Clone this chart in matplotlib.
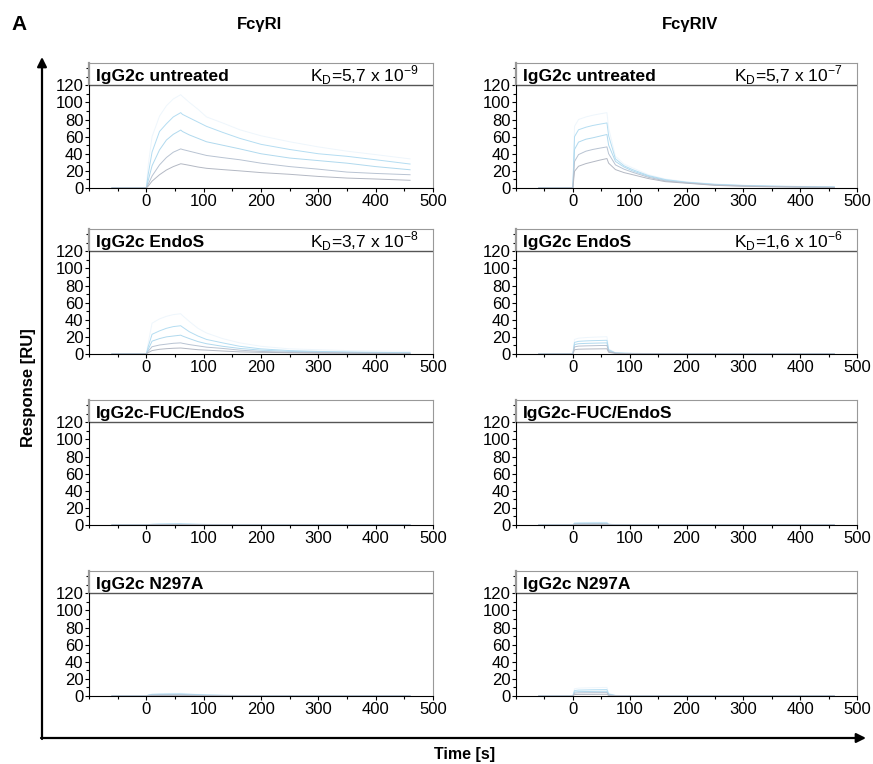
import matplotlib
matplotlib.use('Agg')
import matplotlib.pyplot as plt
from matplotlib.patches import FancyArrowPatch
from matplotlib.ticker import MultipleLocator

plt.rcParams['font.family'] = ['Liberation Sans', 'DejaVu Sans']

# time points of the sensorgrams (s)
times = [-60, 0, 3, 10, 23, 35, 47, 60, 63, 75, 90, 105, 133, 163, 200, 250, 300, 350, 400, 460]

# responses (RU), highest concentration first
fcg1_untreated = [
    [0, 0, 25, 60, 84, 96, 104, 109, 107, 100, 92, 83, 76, 68, 61, 54, 48, 43, 39, 34],
    [0, 0, 15, 42, 66, 75, 83, 88, 86, 82, 77, 72, 65, 58, 51, 45, 40, 37, 33, 28],
    [0, 0, 8, 26, 44.5, 56, 62.7, 67.7, 66, 62, 58, 54, 50, 45.7, 40, 35, 32, 29, 25, 21.3],
    [0, 0, 4, 14, 27, 35.6, 41.8, 45.7, 45, 43, 40.5, 38, 35.5, 33, 29, 25, 22, 18.6, 17, 15.5],
    [0, 0, 2, 8, 15.5, 21, 25, 28.3, 28, 26.5, 24.5, 23, 21.5, 20, 18, 16, 13.5, 11.6, 10.5, 9],
]
fcg1_endos = [
    [0, 0, 12, 36, 41, 44, 46, 47, 45, 38, 30, 24.5, 18, 13, 9, 6, 5, 4, 3.5, 3],
    [0, 0, 8, 23, 27, 30, 32, 33, 31.5, 26, 21, 17, 13, 9, 6, 4, 3, 2.4, 2, 1.5],
    [0, 0, 5, 15, 18, 20, 21, 22, 21, 18, 14.5, 12, 9, 6.5, 4.5, 3, 2.5, 2, 1.5, 1],
    [0, 0, 3, 8.5, 10.5, 11.5, 12.5, 13, 12.5, 11, 9.5, 8, 6.5, 4.5, 3, 2, 1.8, 1.4, 1, 0.8],
    [0, 0, 1.5, 4, 5.5, 6.2, 6.7, 7, 6.8, 6, 5, 4.5, 3.5, 2.5, 2, 1.5, 1, 0.8, 0.6, 0.5],
]
fcg1_fuc = [
    [0, 0, 0.5, 1.0, 1.3, 1.5, 1.6, 1.7, 1.6, 1.3, 1.0, 0.8, 0.6, 0.5, 0.4, 0.3, 0.3, 0.2, 0.2, 0.2],
    [0, 0, 0.4, 0.8, 1.0, 1.1, 1.2, 1.3, 1.2, 1.0, 0.8, 0.6, 0.5, 0.4, 0.3, 0.2, 0.2, 0.2, 0.1, 0.1],
    [0, 0, 0.3, 0.6, 0.8, 0.9, 0.95, 1.0, 0.9, 0.8, 0.6, 0.5, 0.4, 0.3, 0.2, 0.2, 0.1, 0.1, 0.1, 0.1],
    [0, 0, 0.2, 0.4, 0.5, 0.6, 0.65, 0.7, 0.65, 0.55, 0.45, 0.35, 0.3, 0.2, 0.15, 0.1, 0.1, 0.1, 0.1, 0.1],
    [0, 0, 0.1, 0.2, 0.3, 0.35, 0.38, 0.4, 0.38, 0.3, 0.25, 0.2, 0.15, 0.1, 0.1, 0.1, 0.05, 0.05, 0.05, 0.05],
]
fcg1_n297a = [
    [0, 0, 1.2, 2.4, 2.8, 3.0, 3.1, 3.2, 3.1, 2.6, 2.0, 1.5, 1.0, 0.7, 0.5, 0.3, 0.3, 0.2, 0.2, 0.2],
    [0, 0, 0.9, 1.9, 2.2, 2.35, 2.45, 2.5, 2.4, 2.0, 1.6, 1.2, 0.8, 0.55, 0.4, 0.25, 0.2, 0.2, 0.15, 0.15],
    [0, 0, 0.7, 1.4, 1.65, 1.8, 1.85, 1.9, 1.85, 1.5, 1.2, 0.9, 0.6, 0.4, 0.3, 0.2, 0.15, 0.15, 0.1, 0.1],
    [0, 0, 0.5, 1.0, 1.15, 1.22, 1.27, 1.3, 1.25, 1.05, 0.8, 0.6, 0.4, 0.3, 0.2, 0.15, 0.1, 0.1, 0.1, 0.1],
    [0, 0, 0.25, 0.5, 0.6, 0.65, 0.68, 0.7, 0.68, 0.55, 0.45, 0.35, 0.25, 0.15, 0.1, 0.1, 0.05, 0.05, 0.05, 0.05],
]
fcg4_untreated = [
    [0, 0, 72, 80, 83, 85, 86.5, 88, 70, 37, 28, 23.5, 15.6, 10.5, 7.2, 4.7, 3.2, 2.4, 2, 1.5],
    [0, 0, 60, 68, 71, 73, 74.5, 76, 61, 34, 26, 21.5, 14.5, 9.8, 6.8, 4.3, 3, 2.2, 1.7, 1.2],
    [0, 0, 45, 53.6, 57, 58.6, 60.5, 62.5, 50, 31, 24.5, 20, 13.7, 9, 6.3, 4, 2.7, 2, 1.5, 1],
    [0, 0, 31, 39, 43, 45, 46.5, 48, 40, 27, 22, 18.4, 12.5, 8.2, 6, 3.5, 2.4, 1.7, 1.2, 0.8],
    [0, 0, 19.5, 25.4, 28.5, 30.5, 32.5, 34.4, 29, 21.5, 18, 15.6, 11, 7.4, 5.6, 3.1, 2, 1.4, 1, 0.6],
]
fcg4_endos = [
    [0, 0, 17, 18.5, 19.2, 19.6, 19.9, 20.2, 6, 1.5, 1, 0.8, 0.6, 0.5, 0.4, 0.3, 0.3, 0.2, 0.2, 0.2],
    [0, 0, 13.5, 14.8, 15.3, 15.6, 15.8, 16, 5, 1.3, 0.9, 0.7, 0.5, 0.4, 0.3, 0.3, 0.2, 0.2, 0.2, 0.1],
    [0, 0, 11, 12, 12.4, 12.6, 12.8, 13, 4, 1.1, 0.8, 0.6, 0.5, 0.4, 0.3, 0.2, 0.2, 0.2, 0.1, 0.1],
    [0, 0, 8.3, 9.2, 9.5, 9.7, 9.9, 10, 3, 0.9, 0.6, 0.5, 0.4, 0.3, 0.2, 0.2, 0.2, 0.1, 0.1, 0.1],
    [0, 0, 5, 5.6, 5.8, 5.9, 6, 6.1, 2, 0.7, 0.5, 0.4, 0.3, 0.2, 0.2, 0.2, 0.1, 0.1, 0.1, 0.1],
]
fcg4_fuc = [
    [0, 0, 2.7, 2.9, 3.0, 3.1, 3.15, 3.2, 1.1, 0.4, 0.3, 0.25, 0.2, 0.15, 0.1, 0.1, 0.1, 0.1, 0.1, 0.1],
    [0, 0, 2.1, 2.3, 2.4, 2.45, 2.5, 2.5, 0.9, 0.3, 0.25, 0.2, 0.15, 0.1, 0.1, 0.1, 0.1, 0.1, 0.1, 0.1],
    [0, 0, 1.6, 1.7, 1.8, 1.85, 1.9, 1.9, 0.7, 0.25, 0.2, 0.15, 0.1, 0.1, 0.1, 0.1, 0.1, 0.05, 0.05, 0.05],
    [0, 0, 1.1, 1.2, 1.25, 1.28, 1.3, 1.3, 0.5, 0.2, 0.15, 0.1, 0.1, 0.1, 0.05, 0.05, 0.05, 0.05, 0.05, 0.05],
    [0, 0, 0.6, 0.65, 0.68, 0.7, 0.7, 0.7, 0.3, 0.1, 0.1, 0.05, 0.05, 0.05, 0.05, 0.05, 0.05, 0.05, 0.05, 0.05],
]
fcg4_n297a = [
    [0, 0, 8.5, 9.2, 9.5, 9.7, 9.9, 10, 3, 0.8, 0.5, 0.4, 0.3, 0.25, 0.2, 0.15, 0.1, 0.1, 0.1, 0.1],
    [0, 0, 6.4, 6.9, 7.1, 7.3, 7.4, 7.5, 2.3, 0.6, 0.4, 0.3, 0.25, 0.2, 0.15, 0.1, 0.1, 0.1, 0.1, 0.1],
    [0, 0, 4.7, 5.1, 5.25, 5.35, 5.45, 5.5, 1.7, 0.5, 0.3, 0.25, 0.2, 0.15, 0.1, 0.1, 0.1, 0.1, 0.05, 0.05],
    [0, 0, 3.4, 3.7, 3.8, 3.9, 3.95, 4.0, 1.2, 0.35, 0.25, 0.2, 0.15, 0.1, 0.1, 0.1, 0.05, 0.05, 0.05, 0.05],
    [0, 0, 1.7, 1.85, 1.9, 1.95, 2.0, 2.0, 0.6, 0.2, 0.15, 0.1, 0.1, 0.05, 0.05, 0.05, 0.05, 0.05, 0.05, 0.05],
]

titles = ['IgG2c untreated', 'IgG2c EndoS', 'IgG2c-FUC/EndoS', 'IgG2c N297A']
kd_fcg1 = ['5,7 x 10$^\\mathregular{-9}$', '3,7 x 10$^\\mathregular{-8}$', None, None]
kd_fcg4 = ['5,7 x 10$^\\mathregular{-7}$', '1,6 x 10$^\\mathregular{-6}$', None, None]
columns = ['Fc\u03b3RI', 'Fc\u03b3RIV']
colors = ['#eef6fc', '#b4ddf2', '#b0d9ee', '#b8c3d2', '#b3b8c3']

W, H = 873, 764
fig = plt.figure(figsize=(W / 100, H / 100), dpi=100)

row_tops = [63, 229, 400, 571]
col_lefts = [89, 516]
col_widths = [344, 341]
panel_h = 125


def draw_panel(ax, curves, title, kd):
    for vals, c in zip(curves, colors):
        ax.plot(times, vals, color=c, lw=0.7)
    ax.set_xlim(-100, 500)
    ax.set_ylim(0, 146)
    ax.axhline(120, color='#555555', lw=1)
    for s in ['top', 'right']:
        ax.spines[s].set_color('#999999')
    ax.spines['left'].set_bounds(0, 120)
    ax.plot([-100, -100], [120, 146], color='#999999', lw=1.6, clip_on=False)
    ax.set_yticks(range(0, 121, 20))
    ax.yaxis.set_minor_locator(MultipleLocator(10))
    ax.set_xticks(range(0, 501, 100))
    ax.xaxis.set_minor_locator(MultipleLocator(50))
    ax.set_ylim(0, 146)
    ax.tick_params(which='major', direction='out', length=3, width=0.8, labelsize=12, pad=1)
    ax.tick_params(which='minor', direction='out', length=2, width=0.8)
    ax.text(-88, 125, title, fontsize=12.5, fontweight='bold', va='baseline')
    if kd:
        ax.text(474, 125, 'K$_\\mathregular{D}$=' + kd, fontsize=12.5, ha='right', va='baseline')


panels = [
    (fcg1_untreated, fcg4_untreated),
    (fcg1_endos, fcg4_endos),
    (fcg1_fuc, fcg4_fuc),
    (fcg1_n297a, fcg4_n297a),
]

for r, (d1, d4) in enumerate(panels):
    for c, (data, kd) in enumerate([(d1, kd_fcg1[r]), (d4, kd_fcg4[r])]):
        top = row_tops[r]
        ax = fig.add_axes([col_lefts[c] / W, 1 - (top + panel_h) / H,
                           col_widths[c] / W, panel_h / H])
        draw_panel(ax, data, titles[r], kd)

# column headers and labels
fig.text(260 / W, 1 - 25 / H, columns[0], fontsize=12, fontweight='bold', ha='center', va='center')
fig.text(690 / W, 1 - 25 / H, columns[1], fontsize=12, fontweight='bold', ha='center', va='center')
fig.text(11 / W, 1 - 25 / H, 'A', fontsize=15, fontweight='bold', ha='left', va='center')
fig.text(29 / W, 1 - 388 / H, 'Response [RU]', fontsize=12, fontweight='bold',
         rotation=90, ha='center', va='center')
fig.text(465 / W, 1 - 754 / H, 'Time [s]', fontsize=11.5, fontweight='bold', ha='center', va='center')

# big axis arrows
for start, end in [((42, 739), (42, 57)), ((41, 738), (866, 738))]:
    fig.add_artist(FancyArrowPatch((start[0] / W, 1 - start[1] / H), (end[0] / W, 1 - end[1] / H),
                                   transform=fig.transFigure, arrowstyle='-|>',
                                   mutation_scale=14, lw=1.6, color='black',
                                   shrinkA=0, shrinkB=0))

fig.savefig('out.png', dpi=100)
